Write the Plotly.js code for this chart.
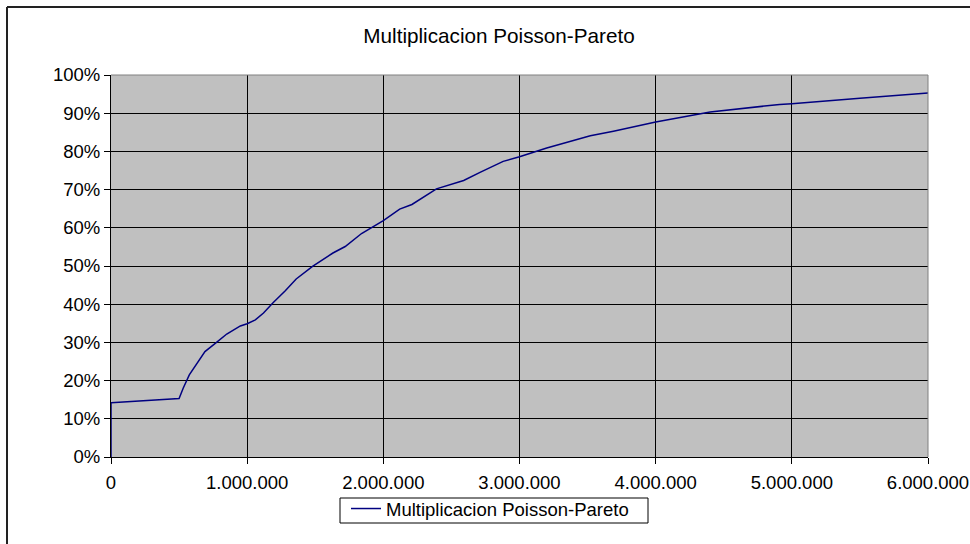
<!DOCTYPE html>
<html>
<head>
<meta charset="utf-8">
<script src="https://cdn.plot.ly/plotly-3.0.1.min.js"></script>
<style>body{margin:0;background:#fff;} #chart{width:970px;height:544px;}</style>
</head>
<body>
<div id="chart"></div>
<script>
const seriesName = "Multiplicacion Poisson-Pareto";
const xValues = [0, 0, 500000, 530000, 575000, 600000, 690000, 775000, 850000, 950000, 1000000, 1060000, 1120000, 1190000, 1280000, 1360000, 1480000, 1630000, 1720000, 1840000, 2000000, 2120000, 2210000, 2390000, 2590000, 2710000, 2880000, 3000000, 3200000, 3520000, 3690000, 4000000, 4400000, 4910000, 5000000, 5500000, 6000000];
const yValues = [0, 0.142, 0.153, 0.18, 0.215, 0.228, 0.276, 0.30, 0.322, 0.343, 0.349, 0.359, 0.377, 0.404, 0.435, 0.466, 0.499, 0.534, 0.551, 0.585, 0.619, 0.649, 0.661, 0.702, 0.724, 0.745, 0.774, 0.786, 0.809, 0.841, 0.853, 0.877, 0.903, 0.923, 0.925, 0.939, 0.953];

const fam = "Liberation Sans, Arial, sans-serif";
const font = {family: fam, size: 18.5, color: "#000"};
const titleFont = {family: fam, size: 20.7, color: "#000"};
const L = 111, R = 928, T = 75, B = 457;
const px = v => (v - L) / (R - L);
const py = v => (B - v) / (B - T);

const trace = {
  x: xValues, y: yValues, type: "scatter", mode: "lines", name: seriesName,
  line: {color: "#000080", width: 1.5}
};

const layout = {
  width: 970, height: 544,
  margin: {l: L, r: 970 - R, t: T, b: 544 - B},
  separators: ",.",
  paper_bgcolor: "#fff",
  plot_bgcolor: "#c0c0c0",
  font: font,
  title: {text: "Multiplicacion Poisson-Pareto", font: titleFont, x: 499/970, xref: "container", xanchor: "center", y: 1 - 36/544, yref: "container", yanchor: "middle"},
  xaxis: {
    range: [0, 6000000], tickvals: [0,1000000,2000000,3000000,4000000,5000000,6000000],
    tickformat: ",d", showgrid: true, gridcolor: "#000", gridwidth: 1,
    showline: true, linecolor: "#000", linewidth: 1, ticks: "outside", ticklen: 6, tickcolor: "#000",
    ticklabelstandoff: 3,
    zeroline: false, tickfont: font, fixedrange: true
  },
  yaxis: {
    range: [0, 1], dtick: 0.1, tick0: 0, tickformat: ".0%", showgrid: true, gridcolor: "#000", gridwidth: 1,
    showline: true, linecolor: "#000", linewidth: 1, ticks: "outside", ticklen: 6, tickcolor: "#000",
    zeroline: false, tickfont: font, fixedrange: true
  },
  showlegend: true,
  legend: {orientation: "h", xref: "container", yref: "container", x: 346/970, xanchor: "left", y: 1 - 490/544, yanchor: "top",
    borderwidth: 0, bgcolor: "rgba(0,0,0,0)", font: font},
  shapes: [
    {type: "line", xref: "paper", yref: "paper", x0: 0, x1: 1, y0: 1, y1: 1, line: {color: "#808080", width: 1}},
    {type: "line", xref: "paper", yref: "paper", x0: 1, x1: 1, y0: 0, y1: 1, line: {color: "#808080", width: 1}},
    {type: "line", xref: "paper", yref: "paper", x0: px(7), x1: px(7), y0: py(7), y1: py(560), line: {color: "#222", width: 2}},
    {type: "line", xref: "paper", yref: "paper", x0: px(7), x1: px(980), y0: py(7), y1: py(7), line: {color: "#222", width: 2}},
    {type: "rect", xref: "paper", yref: "paper", x0: px(340), x1: px(648), y0: py(498), y1: py(523), line: {color: "#000", width: 1}, fillcolor: "rgba(0,0,0,0)"}
  ]
};
Plotly.newPlot("chart", [trace], layout, {displayModeBar: false, staticPlot: true});
</script>
</body>
</html>
